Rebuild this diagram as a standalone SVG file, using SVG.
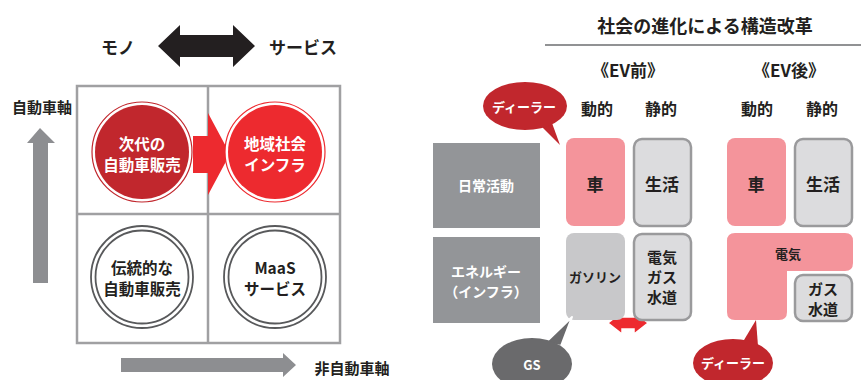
<svg xmlns="http://www.w3.org/2000/svg" width="861" height="380" viewBox="0 0 861 380">
<style>
text{font-family:"Noto Sans CJK JP","Noto Sans",sans-serif;font-weight:700;text-anchor:middle;dominant-baseline:central}
.dk{fill:#231f20}
.wh{fill:#ffffff}
.grid{fill:none;stroke:#a0a0a2;stroke-width:2.5}
.gbox{fill:#dcdcde;stroke:#9a9a9c;stroke-width:2.5}
.pink{fill:#f4949b}
.lab{fill:#939598}
</style>
<rect width="861" height="380" fill="#ffffff"/>
<!-- left: matrix -->
<g id="axis-top">
<text class="dk" x="118" y="46" font-size="17">モノ</text>
<polygon points="158,46 180,25 180,35 233,35 233,25 255,46 233,67 233,57 180,57 180,67" fill="#231f20"/>
<text class="dk" x="303" y="46" font-size="17">サービス</text>
</g>
<g id="grid">
<rect class="grid" x="77" y="86" width="263" height="257"/>
<line class="grid" x1="208" y1="86" x2="208" y2="343"/>
<line class="grid" x1="77" y1="214" x2="340" y2="214"/>
</g>
<g id="axis-y">
<text class="dk" x="42" y="106" font-size="15">自動車軸</text>
<polygon points="40,128 55,143 48,143 48,283 33,283 33,143 27,143" fill="#8d8e91"/>
</g>
<g id="axis-x">
<polygon points="121,358 283,358 283,353 296,365 283,377 283,372 121,372" fill="#8d8e91"/>
<text class="dk" x="352" y="367" font-size="15">非自動車軸</text>
</g>
<g id="connectors">
<polygon points="193,136 208,136 208,113 230,154 208,195 208,173 193,173" fill="#ed2a2f"/>
<polygon points="608,323 622,312 622,317 634,317 634,312 648,323 634,334 634,329 622,329 622,334" fill="#ed2a2f" stroke="#ffffff" stroke-width="1.5"/>
</g>
<g id="node-next">
<circle cx="142" cy="152" r="50" fill="#ffffff" stroke="#c1272d" stroke-width="1.2"/>
<circle cx="142" cy="152" r="47" fill="#c1272d"/>
<text class="wh" x="142" y="143" font-size="15.5">次代の</text>
<text class="wh" x="142" y="164" font-size="15.5">自動車販売</text>
</g>
<g id="node-infra">
<circle cx="275" cy="152" r="50" fill="#ffffff" stroke="#ed2a2f" stroke-width="1.2"/>
<circle cx="275" cy="152" r="47" fill="#ed2a2f"/>
<text class="wh" x="275" y="143" font-size="15.5">地域社会</text>
<text class="wh" x="275" y="164" font-size="15.5">インフラ</text>
</g>
<g id="node-trad">
<circle cx="142" cy="277" r="51" fill="#ffffff" stroke="#58595b" stroke-width="1.8"/>
<circle cx="142" cy="277" r="46.5" fill="#ffffff" stroke="#58595b" stroke-width="1.8"/>
<text class="dk" x="142" y="267" font-size="15.5">伝統的な</text>
<text class="dk" x="142" y="288" font-size="15.5">自動車販売</text>
</g>
<g id="node-maas">
<circle cx="275" cy="277" r="51" fill="#ffffff" stroke="#58595b" stroke-width="1.8"/>
<circle cx="275" cy="277" r="46.5" fill="#ffffff" stroke="#58595b" stroke-width="1.8"/>
<text class="dk" x="275" y="267" font-size="15.5">MaaS</text>
<text class="dk" x="275" y="288" font-size="15.5">サービス</text>
</g>
<!-- right: table -->
<g id="title">
<text class="dk" x="705" y="25" font-size="18">社会の進化による構造改革</text>
<line x1="545" y1="45" x2="861" y2="45" stroke="#6d6e71" stroke-width="1.5"/>
<text class="dk" x="628" y="69" font-size="17">《EV前》</text>
<text class="dk" x="789" y="69" font-size="17">《EV後》</text>
<text class="dk" x="597" y="108" font-size="16">動的</text>
<text class="dk" x="661" y="108" font-size="16">静的</text>
<text class="dk" x="757" y="108" font-size="16">動的</text>
<text class="dk" x="822" y="108" font-size="16">静的</text>
</g>
<g id="row-daily">
<rect class="lab" x="433" y="143" width="107" height="85"/>
<text class="wh" x="486" y="185" font-size="14">日常活動</text>
</g>
<g id="row-energy">
<rect class="lab" x="433" y="237" width="107" height="86"/>
<text class="wh" x="486" y="271" font-size="14">エネルギー</text>
<text class="wh" x="486" y="290.5" font-size="14">（インフラ）</text>
</g>
<g id="before-car">
<rect class="pink" x="566" y="138" width="59" height="88" rx="8"/>
<text class="dk" x="595" y="183" font-size="17">車</text>
</g>
<g id="before-life">
<rect class="gbox" x="634" y="139" width="57" height="87" rx="8"/>
<text class="dk" x="662" y="183" font-size="17">生活</text>
</g>
<g id="before-gasoline">
<rect x="566" y="233" width="59" height="87" rx="8" fill="#c8c8ca"/>
<text class="dk" x="595" y="276" font-size="13">ガソリン</text>
</g>
<g id="before-utilities">
<rect class="gbox" x="634" y="234" width="57" height="86" rx="8"/>
<text class="dk" x="662" y="256" font-size="15">電気</text>
<text class="dk" x="662" y="276" font-size="15">ガス</text>
<text class="dk" x="662" y="296" font-size="15">水道</text>
</g>
<g id="after-car">
<rect class="pink" x="727" y="138" width="59" height="88" rx="8"/>
<text class="dk" x="756" y="183" font-size="17">車</text>
</g>
<g id="after-life">
<rect class="gbox" x="795" y="139" width="57" height="87" rx="8"/>
<text class="dk" x="823" y="183" font-size="17">生活</text>
</g>
<g id="after-electric">
<path class="pink" d="M735,233 H845 Q853,233 853,241 V263 Q853,271 845,271 H787 V312 Q787,320 779,320 H735 Q727,320 727,312 V241 Q727,233 735,233 Z"/>
<text class="dk" x="788" y="253" font-size="13">電気</text>
</g>
<g id="after-utilities">
<rect class="gbox" x="795" y="275" width="57" height="46" rx="8"/>
<text class="dk" x="823" y="288" font-size="15">ガス</text>
<text class="dk" x="823" y="308" font-size="15">水道</text>
</g>
<g id="bubble-dealer-top">
<path d="M542,127 L560,145 L552,123 Z" fill="#c1272d"/>
<ellipse cx="525" cy="106" rx="42" ry="24" fill="#c1272d"/>
<text class="wh" x="524" y="106" font-size="13">ディーラー</text>
</g>
<g id="bubble-gs">
<path d="M545,343 L572,317 L561,346 Z" fill="#6a6a6c" stroke="#ffffff" stroke-width="2" stroke-linejoin="round"/>
<ellipse cx="532" cy="364" rx="40" ry="26" fill="#6a6a6c"/>
<text class="wh" x="532" y="364" font-size="13">GS</text>
</g>
<g id="bubble-dealer-bottom">
<path d="M741,345 L756,320 L758,346 Z" fill="#c1272d"/>
<ellipse cx="733" cy="363" rx="40" ry="24" fill="#c1272d"/>
<text class="wh" x="733" y="362" font-size="13">ディーラー</text>
</g>
</svg>
